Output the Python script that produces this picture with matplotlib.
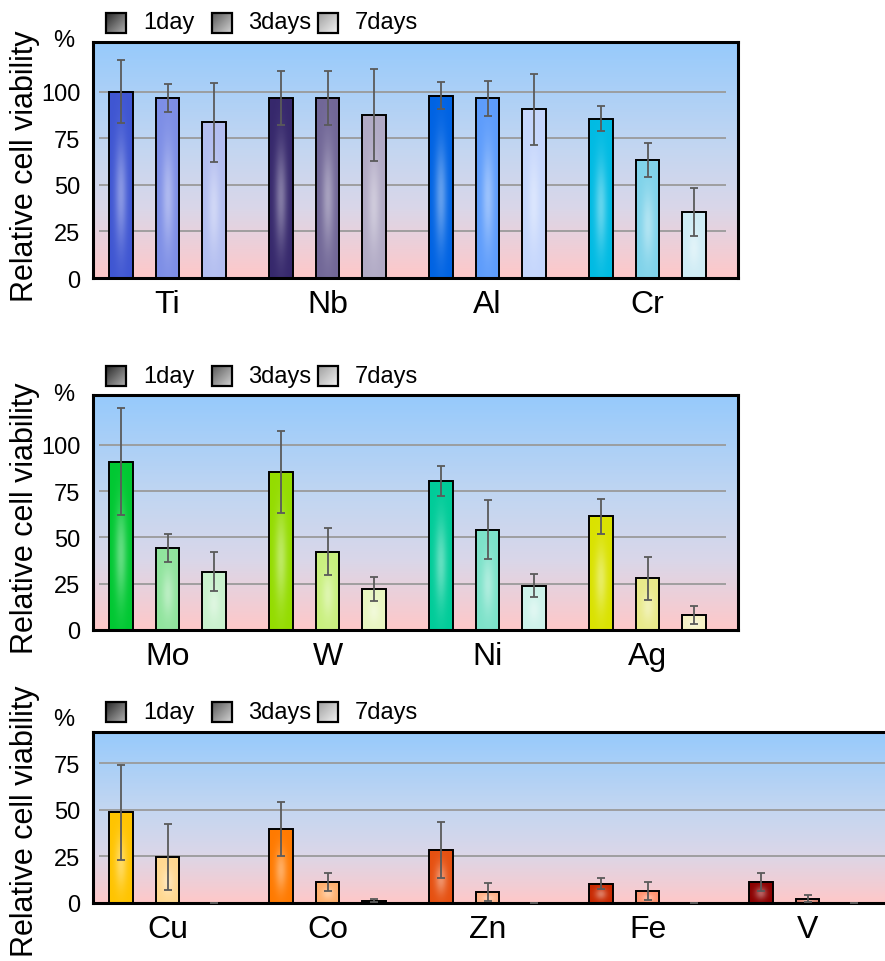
import matplotlib
matplotlib.use('Agg')
import matplotlib.pyplot as plt
import numpy as np
from matplotlib.colors import to_rgb, LinearSegmentedColormap
from matplotlib.patches import Rectangle

plt.rcParams['font.family'] = ['Liberation Sans', 'DejaVu Sans']

W_PX, H_PX = 885, 962
DAYS = ['1day', '3days', '7days']

# panel 1
METALS_A = ['Ti', 'Nb', 'Al', 'Cr']
DAY1_A = [100.0, 96.6, 98.0, 85.6]
DAY3_A = [96.8, 96.6, 96.4, 63.4]
DAY7_A = [83.7, 87.3, 90.5, 35.5]
ERR1_A = [17.0, 14.3, 7.2, 6.9]
ERR3_A = [7.5, 14.3, 9.5, 8.9]
ERR7_A = [21.2, 24.7, 19.2, 12.7]
COLORS_A = [['#3f56d2', '#7d8ee6', '#b3bef0'],
            ['#36286c', '#716797', '#b1aac5'],
            ['#0063e3', '#5d9cfb', '#c5d6fc'],
            ['#00bbe3', '#80d3ea', '#cfecf5']]

# panel 2
METALS_B = ['Mo', 'W', 'Ni', 'Ag']
DAY1_B = [91.0, 85.4, 80.7, 61.4]
DAY3_B = [44.2, 42.4, 54.2, 28.0]
DAY7_B = [31.6, 22.2, 24.0, 8.1]
ERR1_B = [29.0, 22.4, 8.1, 9.3]
ERR3_B = [7.7, 12.7, 15.8, 11.7]
ERR7_B = [10.5, 6.3, 6.3, 4.9]
COLORS_B = [['#00c832', '#90e49d', '#c9f1cd'],
            ['#94dc00', '#c9f07e', '#e9f6c1'],
            ['#00cc99', '#7ce2c9', '#cdf2ea'],
            ['#dae200', '#e9ea8a', '#f6f2c5']]

# panel 3
METALS_C = ['Cu', 'Co', 'Zn', 'Fe', 'V']
DAY1_C = [48.6, 39.6, 28.6, 10.3, 11.3]
DAY3_C = [24.8, 11.3, 5.9, 6.3, 2.3]
DAY7_C = [0.0, 1.2, 0.0, 0.0, 0.0]
ERR1_C = [25.4, 14.5, 15.0, 3.0, 5.0]
ERR3_C = [17.8, 5.0, 5.0, 4.7, 2.0]
ERR7_C = [0.0, 0.8, 0.0, 0.0, 0.0]
COLORS_C = [['#ffc400', '#ffd890', '#ffe8c0'],
            ['#ff7a00', '#ffb06e', '#d06a30'],
            ['#e65010', '#ffb38a', '#ffd0b8'],
            ['#c82800', '#ff9370', '#ffc0b0'],
            ['#8b0000', '#d88070', '#f0c0b8']]

bg_cmap = LinearSegmentedColormap.from_list('bg', [
    (0.0, '#ffc8c8'), (0.1, '#f2cdd4'), (0.3, '#d9d7e9'),
    (0.55, '#c3d6f1'), (1.0, '#96cafc')])
gsh = np.linspace(0, 1, 256).reshape(-1, 1)

fig = plt.figure(figsize=(W_PX / 100, H_PX / 100), dpi=100)


def glossy(ax, x0, w, h, color):
    base = np.array(to_rgb(color))
    xs = np.linspace(0, 1, 24)
    ys = np.linspace(0, 1, 60)
    X, Y = np.meshgrid(xs, ys)
    g = 0.38 * np.exp(-((X - 0.5) / 0.18) ** 2 / 2 - ((Y - 0.45) / 0.2) ** 2 / 2)
    img = base + (1 - base) * g[..., None]
    ax.imshow(img, extent=[x0, x0 + w, 0, h], origin='lower',
              aspect='auto', zorder=2, interpolation='bilinear')


def panel(top_px, bot_px, right_px, metals, vals, errs, colors, ymax, yticks):
    left_px = 93
    ax = fig.add_axes([left_px / W_PX, 1 - bot_px / H_PX,
                       (right_px - left_px) / W_PX, (bot_px - top_px) / H_PX])
    ax.imshow(gsh, extent=[0, 1, 0, 1], transform=ax.transAxes, origin='lower',
              aspect='auto', cmap=bg_cmap, zorder=0)
    x = np.arange(len(metals))
    xmin = -0.466
    xmax = xmin + (right_px - left_px) / 160
    ax.hlines(yticks[1:], -0.43, min(xmax, 3.49) if right_px < 800 else xmax,
              color='#9a9a9a', lw=1.3, zorder=1)
    bw = 0.148
    for k in range(3):
        xk = x + (k - 1) * 0.292
        for i in range(len(metals)):
            if vals[k][i] > 0:
                glossy(ax, xk[i] - bw / 2, bw, vals[k][i], colors[i][k])
        ax.bar(xk, vals[k], width=bw, facecolor='none', edgecolor='black',
               lw=1.4, zorder=3)
        ax.errorbar(xk, vals[k], yerr=errs[k], fmt='none', ecolor='#5a5a5a',
                    elinewidth=1.3, capsize=2.6, capthick=1.3, zorder=4)
    ax.set_xlim(xmin, xmax)
    ax.set_ylim(0, ymax)
    ax.set_xticks(x)
    ax.set_xticklabels(metals, fontsize=23)
    ax.set_yticks(yticks)
    ax.tick_params(axis='x', length=0, pad=8)
    ax.tick_params(axis='y', length=0, pad=9, labelsize=17)
    for s in ax.spines.values():
        s.set_linewidth(2.2)
    return ax


panel(42.5, 279, 738, METALS_A, [DAY1_A, DAY3_A, DAY7_A],
      [ERR1_A, ERR3_A, ERR7_A], COLORS_A, 127, [0, 25, 50, 75, 100])
panel(396, 631, 738, METALS_B, [DAY1_B, DAY3_B, DAY7_B],
      [ERR1_B, ERR3_B, ERR7_B], COLORS_B, 127, [0, 25, 50, 75, 100])
panel(732.5, 904, 905, METALS_C, [DAY1_C, DAY3_C, DAY7_C],
      [ERR1_C, ERR3_C, ERR7_C], COLORS_C, 92, [0, 25, 50, 75])

# overlay in pixel coordinates for legends and labels
lay = fig.add_axes([0, 0, 1, 1], zorder=10)
lay.set_xlim(0, W_PX)
lay.set_ylim(H_PX, 0)
lay.axis('off')

LEG_SHADES = [('#2a2a2a', '#b0b0b0'), ('#5a5a5a', '#d2d2d2'), ('#a0a0a0', '#f2f2f2')]
sq_x = [106, 212, 318]
txt_x = [143, 248, 355]
n = 20
ii, jj = np.meshgrid(np.arange(n), np.arange(n))
tt = (ii + jj) / (2 * (n - 1))
for cy, pct_y, lab_y in [(23.5, 41, 166), (377, 395, 518), (713, 720, 821)]:
    for k in range(3):
        c0 = np.array(to_rgb(LEG_SHADES[k][0]))
        c1 = np.array(to_rgb(LEG_SHADES[k][1]))
        img = c0 + (c1 - c0) * tt[..., None]
        lay.imshow(img, extent=[sq_x[k], sq_x[k] + 20, cy + 10, cy - 10],
                   aspect='auto', zorder=1)
        lay.add_patch(Rectangle((sq_x[k], cy - 10), 20, 20, fill=False,
                                ec='black', lw=1.6, zorder=2))
        lay.text(txt_x[k], cy, DAYS[k], fontsize=17, ha='left', va='center')
    lay.text(64, pct_y, '%', fontsize=17, ha='center', va='center')
    lay.text(25, lab_y, 'Relative cell viability', fontsize=22, rotation=90,
             ha='center', va='center')
lay.set_xlim(0, W_PX)
lay.set_ylim(H_PX, 0)

fig.savefig('out.png', dpi=100, facecolor='white')
